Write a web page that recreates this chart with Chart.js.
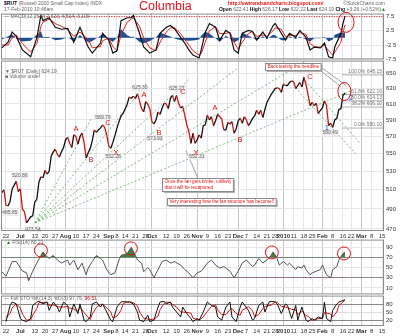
<!DOCTYPE html>
<html>
<head>
<meta charset="utf-8">
<script src="https://cdn.jsdelivr.net/npm/chart.js@4.4.1/dist/chart.umd.min.js"></script>
<style>
body { margin: 0; background: #fff; }
#wrap { position: relative; width: 400px; height: 336px; overflow: hidden; font-family: "Liberation Sans", Arial, sans-serif; }
#wrap canvas { position: absolute; left: 0; }
.t { position: absolute; white-space: nowrap; line-height: 1; color: #666; }
.t b { color: #111; }
</style>
</head>
<body>
<div id="wrap">
  <canvas id="macd" width="400" height="57" style="top:8px"></canvas>
  <canvas id="price" width="400" height="186" style="top:55px"></canvas>
  <canvas id="rsi" width="400" height="66" style="top:234px"></canvas>
  <canvas id="sto" width="400" height="46" style="top:290px"></canvas>

  <div class="t" style="left:4px;top:1px;font-size:5px"><b>$RUT</b> (Russell 2000 Small Cap Index) INDX</div>
  <div class="t" style="left:4px;top:7px;font-size:5px">17-Feb-2010 10:46am</div>
  <div class="t" style="left:139px;top:0px;font-size:12.5px;color:#e8101a">Columbia</div>
  <div class="t" style="left:228px;top:1px;font-size:5px;font-weight:bold;color:#e01010">http://ewtrendsandcharts.blogspot.com/</div>
  <div class="t" style="right:15px;top:1px;font-size:5px">©StockCharts.com</div>
  <div class="t" style="right:14px;top:7px;font-size:5px"><b>Open</b> 622.41 <b>High</b> 626.17 <b>Low</b> 622.22 <b>Last</b> 624.19 <b>Chg</b> +3.26 (+0.52%)<span style="color:#2a8a2a">▲</span></div>

  <div class="t" style="left:4px;top:14px;font-size:5px">— MACD(12,26,9) 7.623, 4.514, 3.109</div>
  <div class="t" style="left:5px;top:69px;font-size:5px">▼ $RUT (Daily) 624.19</div>
  <div class="t" style="left:5px;top:74px;font-size:5px">■ Volume undef</div>
  <div class="t" style="left:6px;top:240px;font-size:5px"><span style="color:#2a7a2a">▲</span> RSI(14) 80.21</div>
  <div class="t" style="left:4px;top:296px;font-size:5px">— Full STO %K(14,3) %D(3) 97.75, <span style="color:#d01010">96.51</span></div>
</div>

<script>
const FONT = '"Liberation Sans", Arial, sans-serif';

// trading-day index 0 = 22 Jun 2009
const xTickDays = [0, 7, 14, 19, 24, 29, 34, 39, 44, 50, 54, 58, 63, 68, 71, 78, 83, 88, 93, 98,
  103, 108, 113, 117, 122, 127, 131, 135, 140, 145, 149, 154, 159, 164, 168, 173, 178, 183];
const xTickLabels = ['22', 'Jul', '13', '20', '27', 'Aug', '10', '17', '24', 'Sep', '8', '14', '21', '28', 'Oct', '12', '19', '26', 'Nov', '9',
  '16', '23', 'Dec', '7', '14', '21', '28', '2010', '11', '18', '25', 'Feb', '8', '16', '22', 'Mar', '8', '15'];
const X_MIN = -2.43, X_MAX = 183.97;

// daily closes, 18 Jun 2009 .. 17 Feb 2010
const firstDay = -2;
const closes = [
  507, 510,
  494, 493, 498, 511, 515,
  519, 508, 511, 490,
  487, 476, 479, 482, 483,
  497, 500, 518, 524, 523,
  531, 527, 530, 547, 552,
  555, 549, 546, 552, 557,
  566, 569, 562, 557, 572,
  570, 561, 570, 574, 563,
  545, 551, 556, 565, 578,
  575, 578, 580, 584, 581,
  572, 559, 556, 563, 571,
  580, 588, 595, 598,
  604, 610, 619, 617, 620,
  617, 623, 614, 604, 600,
  613, 610, 604, 588, 585,
  590, 600, 597, 605, 611,
  610, 604, 617, 621, 613,
  621, 611, 605, 607, 596,
  584, 576, 562, 574, 562,
  566, 572, 568, 583, 584,
  596, 590, 594, 583, 589,
  597, 594, 591, 578, 578,
  587, 585, 588, 574,
  579, 589, 592, 586, 594,
  590, 583, 587, 592, 595,
  602, 597, 602, 593, 603,
  612, 617, 622, 626,
  630, 631, 630, 625,
  636, 634, 634, 638, 640,
  639, 630, 634, 638, 632,
  645, 635, 622, 608,
  612, 608, 611, 598, 602,
  605, 614, 608, 583, 586,
  581, 590, 592, 603, 604,
  621, 624.19
];
const priceTicks = [470, 480, 490, 500, 510, 520, 530, 540, 550, 560, 570, 580, 590, 600, 610, 620, 630, 640, 650];

// MACD panel
const macdDays = [-2, 1, 3, 5, 8, 12, 15, 17, 18, 21, 24, 27, 30, 33, 36, 40, 42, 46, 47, 50,
  52, 54, 56, 59, 61, 62, 65, 67, 70, 73, 75, 78, 80, 82, 85, 87, 89, 91, 94, 95,
  97, 99, 102, 104, 107, 109, 111, 113, 115, 118, 120, 122, 125, 127, 130, 131, 134, 136, 138, 141,
  143, 146, 148, 150, 153, 155, 157, 159, 160, 163, 164, 165];
const macdLine = [-3.5, -1.5, 2.0, 0.5, -4.2, -6.6, 0.0, 7.8, 6.0, 7.0, 3.7, 3.0, 3.3, -1.5, 3.7, -3.2, -5.3, -1.8, 1.6, -0.8,
  -5.3, -4.5, 6.0, 7.0, 7.0, 7.8, 1.6, -3.2, -5.3, -4.2, 1.6, 3.7, 4.3, 3.2, 0.2, -1.8, -4.2, -6.0, -7.0, -4.2,
  2.0, 5.0, 3.7, -0.8, 2.6, 1.6, -4.2, -5.3, 1.6, 2.6, 2.2, -0.8, 2.0, -0.1, 4.3, 5.0, 1.6, -0.8, 1.6, 0.2,
  2.6, 0.2, -4.2, -3.2, -3.5, -1.8, -6.6, -7.0, -3.2, 1.6, 5.0, 7.6];
const macdSignal = [-2.5, -2.5, 0.0, 1.0, -2.0, -5.0, -2.0, 4.0, 5.5, 6.5, 5.0, 4.0, 3.0, 0.5, 2.0, -0.5, -3.5, -3.0, -1.0, 0.0,
  -3.0, -4.5, 1.0, 5.5, 6.5, 7.0, 4.0, 0.0, -3.5, -4.5, -1.5, 2.0, 3.5, 3.5, 1.5, -0.5, -2.5, -4.5, -6.0, -5.5,
  -1.5, 2.5, 3.8, 1.5, 1.5, 2.0, -1.5, -4.0, -1.5, 1.5, 2.2, 0.5, 1.0, 0.5, 2.5, 3.5, 3.0, 0.5, 0.8, 0.8,
  1.8, 1.2, -2.0, -3.0, -3.3, -2.5, -4.5, -6.0, -5.0, -1.5, 2.0, 4.5];
const macdHist = [-0.6, 0.6, 1.2, -0.3, -1.3, -1.0, 1.2, 2.3, 0.3, 0.3, -0.8, -0.6, 0.2, -1.2, 1.0, -1.6, -1.1, 0.7, 1.6, -0.5,
  -1.4, 0.0, 3.0, 0.9, 0.3, 0.5, -1.4, -1.9, -1.1, 0.2, 1.9, 1.0, 0.5, -0.2, -0.8, -0.8, -1.0, -0.9, -0.6, 0.8,
  2.1, 1.5, -0.1, -1.4, 0.7, -0.2, -1.6, -0.8, 1.9, 0.7, 0.0, -0.8, 0.6, -0.4, 1.1, 0.9, -0.8, -0.8, 0.5, -0.4,
  0.5, -0.6, -1.3, -0.1, -0.1, 0.4, -1.3, -0.6, 1.1, 1.9, 1.8, 1.9];
const macdTicks = [-7.5, -5, -2.5, 0, 2.5, 5, 7.5];
const macdAlert = 7.4;

// RSI(14)
const rsiDays = [-2, 0, 3, 5, 8, 10, 11, 13, 15, 17, 18, 20, 21, 23, 25, 27, 30, 31, 33, 35,
  37, 39, 40, 42, 44, 46, 47, 49, 51, 53, 55, 56, 59, 61, 63, 64, 66, 67, 69, 70,
  72, 74, 76, 78, 80, 82, 85, 87, 89, 91, 93, 95, 98, 100, 102, 104, 106, 109, 111, 113,
  115, 117, 120, 121, 123, 125, 127, 129, 130, 132, 133, 135, 137, 138, 141, 142, 144, 145, 146, 148,
  149, 151, 153, 154, 156, 158, 159, 161, 162, 164, 165];
const rsiVals = [42, 33, 62, 62, 43, 40, 24, 43, 59, 74, 81, 71, 68, 74, 65, 59, 65, 55, 65, 46,
  59, 36, 49, 62, 74, 68, 65, 46, 36, 39.5, 65, 74, 78, 90, 74, 65, 59, 42, 50, 46,
  30, 46, 62, 65, 59, 62, 55, 46, 39.5, 30, 39.5, 43, 59, 65, 55, 49, 52, 43, 30, 43,
  59, 65, 52, 55, 68, 59, 65, 74, 81, 68, 55, 62, 55, 59, 46, 52, 49, 55, 46, 36,
  39.5, 43, 46, 55, 36, 30, 46, 52, 65, 78, 80.21];
const rsiTicks = [10, 30, 50, 70, 90];

// Full stochastics
const stoDays = [0, 2, 3, 5, 7, 8, 10, 12, 13, 15, 16, 18, 20, 21, 23, 25, 26, 28, 30, 31,
  33, 35, 36, 38, 39, 41, 42, 44, 46, 47, 49, 51, 52, 54, 56, 57, 59, 60, 62, 64,
  65, 67, 69, 70, 72, 74, 75, 77, 78, 80, 81, 83, 85, 86, 88, 90, 91, 93, 94, 96,
  98, 100, 102, 103, 105, 107, 109, 110, 112, 114, 115, 118, 120, 121, 123, 125, 126, 128, 129, 131,
  132, 134, 136, 137, 139, 141, 142, 144, 146, 147, 149, 150, 152, 154, 155, 156, 158, 159, 161, 162,
  164, 165];
const stoK = [14, 76, 89, 82, 26, 20, 14, 26, 76, 89, 92, 82, 89, 57, 89, 70, 51, 89, 76, 32,
  82, 45, 82, 20, 14, 32, 82, 89, 70, 82, 51, 20, 14, 70, 89, 91, 89, 89, 82, 51,
  20, 14, 39, 14, 20, 70, 89, 92, 82, 89, 70, 51, 32, 70, 45, 26, 14, 26, 20, 51,
  89, 76, 70, 32, 20, 70, 89, 32, 14, 70, 89, 57, 20, 26, 76, 89, 51, 89, 92, 89,
  82, 45, 82, 76, 26, 76, 20, 70, 20, 14, 26, 20, 32, 26, 89, 26, 14, 57, 82, 89,
  95, 97.75];
const stoD = [30, 45, 66, 82, 66, 43, 20, 20, 39, 64, 86, 88, 88, 76, 78, 72, 70, 70, 72, 66,
  63, 53, 70, 49, 39, 22, 43, 68, 80, 80, 68, 51, 28, 35, 58, 83, 90, 90, 87, 74,
  51, 28, 24, 22, 24, 35, 60, 84, 88, 88, 80, 70, 51, 51, 49, 47, 28, 22, 20, 32,
  53, 72, 78, 59, 41, 41, 60, 64, 45, 39, 58, 72, 55, 34, 41, 64, 72, 76, 77, 90,
  88, 72, 70, 68, 61, 59, 41, 55, 37, 35, 20, 20, 26, 26, 49, 47, 43, 32, 51, 76,
  89, 96.51];
const stoTicks = [20, 50, 80];

// drawing tools on the price panel
const fanFrom = [14.1, 475.9];
const fanEndDays = [41.8, 68.6, 89.5, 112.4, 145.5, 168.4];
const fanEndVals = [593.2, 637.9, 643.1, 656.6, 666.4, 627.4];
const channelDays = [[144.5, 172.3], [142.1, 170.8]];
const channelVals = [[644.6, 561.9], [627.4, 548.1]];
const pointerDays = [[151.8, 163.0], [154.3, 165.5], [87.6, 93.4]];
const pointerVals = [[656.7, 632.6], [656.7, 633.9], [553.8, 522.5]];
const fibLevels = [648.15, 622.16, 614.13, 606.10, 580.10];
const fibNames = ['100.0%', '61.8%', '50.0%', '38.2%', '0.0%'];
const fibSpan = [163.5, 184];

const waveDays = [34.1, 41.4, 49.6, 53.5, 67.2, 74.5, 86.1, 92.5, 101.7, 113.9, 147.9, 156.2, 167.9];
const waveVals = [578.5, 542.4, 585.8, 551.0, 622.2, 573.7, 625.8, 551.0, 604.4, 565.5, 645.9, 579.7, 617.1];
const waveNames = ['A', 'B', 'C', 'X', 'A', 'B', 'C', 'X', 'A', 'B', 'C', '1', '2'];

const tagDays = [1.9, 6.8, 13.1, 47.2, 52.1, 65.2, 72.5, 83.2, 92.9, 144.5, 157.7];
const tagVals = [485.85, 520.86, 473.54, 589.79, 552.28, 625.30, 573.93, 625.27, 552.31, 649.15, 580.49];
const tagDy = [0, -4, 4, -3, 5, -4, 5, -4, 5, -4, 5];

const noteDays = [75.9, 78.3, 126.0];
const noteVals = [522.5, 501.2, 665.0];
const noteLines = [
  ['Once the fan gets broke, unlikely', 'that it will be recaptured'],
  ['Very interesting how the fan structure has become!!'],
  ['Back testing the trendline']
];

const pts = (days, vals) => days.map((d, k) => ({ x: d, y: vals[k] }));
const pair = (ds, vs) => [{ x: ds[0], y: vs[0] }, { x: ds[1], y: vs[1] }];
const isMonth = i => /[A-Za-z]|2010/.test(xTickLabels[i] || '');

function xAxis(showLabels) {
  return {
    type: 'linear', min: X_MIN, max: X_MAX,
    afterBuildTicks: s => { s.ticks = xTickDays.map(v => ({ value: v })); },
    afterFit: s => { s.height = showLabels ? 10 : 0; },
    border: { display: false },
    grid: { drawTicks: false, color: c => isMonth(c.index) ? '#c6c6c6' : '#e6e6e6' },
    ticks: {
      display: showLabels, autoSkip: false, maxRotation: 0, padding: 2, color: '#333',
      font: c => ({ family: FONT, size: 6, weight: isMonth(c.index) ? 'bold' : 'normal' }),
      callback: (v, i) => xTickLabels[i]
    }
  };
}

function yAxis(o) {
  return {
    type: o.type || 'linear', position: 'right', min: o.min, max: o.max,
    afterBuildTicks: s => { s.ticks = o.ticks.map(v => ({ value: v })); },
    afterFit: s => { s.width = 16; },
    border: { display: false },
    grid: { drawTicks: false, color: o.gridColor || '#e6e6e6' },
    ticks: { padding: 2, color: '#333', font: { family: FONT, size: 6 }, callback: o.fmt || (v => String(v)) }
  };
}

function options(padTop, padBottom, x, y, extra) {
  return {
    responsive: false, animation: false, devicePixelRatio: 1,
    layout: { padding: { left: 1, right: 0, top: padTop, bottom: padBottom } },
    plugins: Object.assign({ legend: { display: false }, tooltip: { enabled: false } }, extra || {}),
    elements: { point: { radius: 0 }, line: { tension: 0 } },
    scales: { x, y }
  };
}

// panel frame
const frame = {
  id: 'frame',
  afterDraw(chart) {
    const a = chart.chartArea, ctx = chart.ctx;
    ctx.save();
    ctx.strokeStyle = '#8c8c8c';
    ctx.lineWidth = 1;
    ctx.strokeRect(a.left + 0.5, a.top + 0.5, a.width - 1, a.height - 1);
    ctx.restore();
  }
};

// red highlight rings
const rings = {
  id: 'rings',
  afterDatasetsDraw(chart, args, opts) {
    if (!opts || !opts.days) return;
    const { ctx, scales: { x, y } } = chart;
    ctx.save();
    ctx.strokeStyle = '#e01010';
    ctx.lineWidth = 1;
    opts.days.forEach((d, k) => {
      ctx.beginPath();
      ctx.ellipse(x.getPixelForValue(d), y.getPixelForValue(opts.vals[k]), opts.rx, opts.ry, 0, 0, Math.PI * 2);
      ctx.stroke();
    });
    ctx.restore();
  }
};

// wave letters, price tags, fib labels and text notes
const priceNotes = {
  id: 'priceNotes',
  afterDatasetsDraw(chart) {
    const { ctx, scales: { x, y }, chartArea: area } = chart;
    const px = d => x.getPixelForValue(d), py = v => y.getPixelForValue(v);
    ctx.save();
    ctx.textAlign = 'center';
    ctx.textBaseline = 'middle';

    ctx.font = '5px ' + FONT;
    tagDays.forEach((d, k) => {
      const t = tagVals[k].toFixed(2), w = ctx.measureText(t).width + 2;
      const cx = px(d), cy = py(tagVals[k]) + tagDy[k];
      ctx.fillStyle = '#ededed';
      ctx.fillRect(cx - w / 2, cy - 3, w, 6);
      ctx.fillStyle = '#666';
      ctx.fillText(t, cx, cy);
    });

    ctx.font = '7.5px ' + FONT;
    waveDays.forEach((d, k) => {
      ctx.fillStyle = /\d/.test(waveNames[k]) ? '#2040e0' : '#e01010';
      ctx.fillText(waveNames[k], px(d), py(waveVals[k]));
    });

    ctx.font = '5px ' + FONT;
    ctx.textAlign = 'right';
    ctx.fillStyle = '#777';
    fibLevels.forEach((v, k) => {
      ctx.fillText(fibNames[k] + ' ' + v.toFixed(2), area.right - 2, py(v) - 3);
    });

    ctx.font = '4.6px ' + FONT;
    ctx.textAlign = 'left';
    noteDays.forEach((d, k) => {
      const lines = noteLines[k];
      const w = Math.max(...lines.map(l => ctx.measureText(l).width)) + 4;
      const h = lines.length * 6 + 1;
      const bx = Math.round(px(d)) + 0.5, by = Math.round(py(noteVals[k])) + 0.5;
      ctx.fillStyle = '#b0b0b0';
      ctx.fillRect(bx + 1.5, by + 1.5, w, h);
      ctx.fillStyle = '#fff';
      ctx.fillRect(bx, by, w, h);
      ctx.strokeStyle = '#8a8a8a';
      ctx.lineWidth = 1;
      ctx.strokeRect(bx, by, w, h);
      ctx.fillStyle = '#e01010';
      lines.forEach((l, j) => ctx.fillText(l, bx + 2, by + 3.5 + j * 6));
    });
    ctx.restore();
  }
};

// ---- MACD ----
new Chart('macd', {
  type: 'line',
  data: {
    datasets: [
      { data: pts(macdDays, macdLine), borderColor: '#111', borderWidth: 1.2, order: 0 },
      { data: pts(macdDays, macdSignal), borderColor: '#e02424', borderWidth: 1, order: 1 },
      { data: [{ x: 16, y: macdAlert }, { x: 184, y: macdAlert }], borderColor: '#e01010', borderWidth: 1, borderDash: [1, 1.5], order: 2 },
      { data: pts(macdDays, macdHist), borderWidth: 0, backgroundColor: '#1f4f93', fill: 'origin', order: 3 }
    ]
  },
  options: options(5, 5, xAxis(false),
    yAxis({ min: -7.5, max: 8.45, ticks: macdTicks, fmt: v => v.toFixed(1) }),
    { rings: { days: [165.5], vals: [5.4], rx: 8, ry: 10 } }),
  plugins: [frame, rings]
});

// ---- price ----
const priceSets = [{
  data: pts(closes.map((c, k) => firstDay + k), closes),
  borderWidth: 1.3, borderColor: '#111', order: 0,
  segment: { borderColor: c => c.p1.parsed.y < c.p0.parsed.y ? '#d01414' : '#111' }
}];
fanEndDays.forEach((d, k) => priceSets.push({
  data: pair([fanFrom[0], d], [fanFrom[1], fanEndVals[k]]),
  borderColor: '#5ea85e', borderWidth: 0.8, borderDash: [2, 2], order: 2
}));
channelDays.forEach((ds, k) => priceSets.push({
  data: pair(ds, channelVals[k]), borderColor: '#5ea85e', borderWidth: 0.8, borderDash: [2, 2], order: 2
}));
fibLevels.forEach(v => priceSets.push({
  data: pair(fibSpan, [v, v]), borderColor: '#9a9a9a', borderWidth: 0.8, order: 3
}));
pointerDays.forEach((ds, k) => priceSets.push({
  data: pair(ds, pointerVals[k]), borderColor: '#8a8a8a', borderWidth: 0.8, order: 1
}));

new Chart('price', {
  type: 'line',
  data: { datasets: priceSets },
  options: options(5, 0, xAxis(true),
    yAxis({ type: 'logarithmic', min: 467.97, max: 667.8, ticks: priceTicks }),
    { rings: { days: [164.7], vals: [626.1], rx: 6.5, ry: 9 } }),
  plugins: [frame, priceNotes, rings]
});

// ---- RSI ----
new Chart('rsi', {
  type: 'line',
  data: {
    datasets: [
      { data: pts(rsiDays, rsiVals), borderColor: '#555', borderWidth: 1, order: 0 },
      { data: pts(rsiDays, rsiVals), borderWidth: 0, fill: { target: { value: 70 }, above: '#3f7f3f', below: 'rgba(0,0,0,0)' }, order: 1 },
      { data: pts(rsiDays, rsiVals), borderWidth: 0, fill: { target: { value: 30 }, above: 'rgba(0,0,0,0)', below: '#c42a2a' }, order: 1 }
    ]
  },
  options: options(5, 5, xAxis(false),
    yAxis({ min: -2.8, max: 105.3, ticks: rsiTicks, gridColor: c => (c.tick && (c.tick.value === 70 || c.tick.value === 30)) ? '#8a8a8a' : '#e6e6e6' }),
    { rings: { days: [17, 60.8, 129.4, 164.5], vals: [84, 88, 80, 78], rx: 6.5, ry: 6.5 } }),
  plugins: [frame, rings]
});

// ---- Full STO ----
new Chart('sto', {
  type: 'line',
  data: {
    datasets: [
      { data: pts(stoDays, stoK), borderColor: '#111', borderWidth: 1, order: 0 },
      { data: pts(stoDays, stoD), borderColor: '#d01414', borderWidth: 1, order: 1 }
    ]
  },
  options: options(5, 0, xAxis(true),
    yAxis({ min: -2.5, max: 113.7, ticks: stoTicks, gridColor: c => (c.tick && c.tick.value !== 50) ? '#8a8a8a' : '#dddddd' })),
  plugins: [frame]
});
</script>
</body>
</html>
